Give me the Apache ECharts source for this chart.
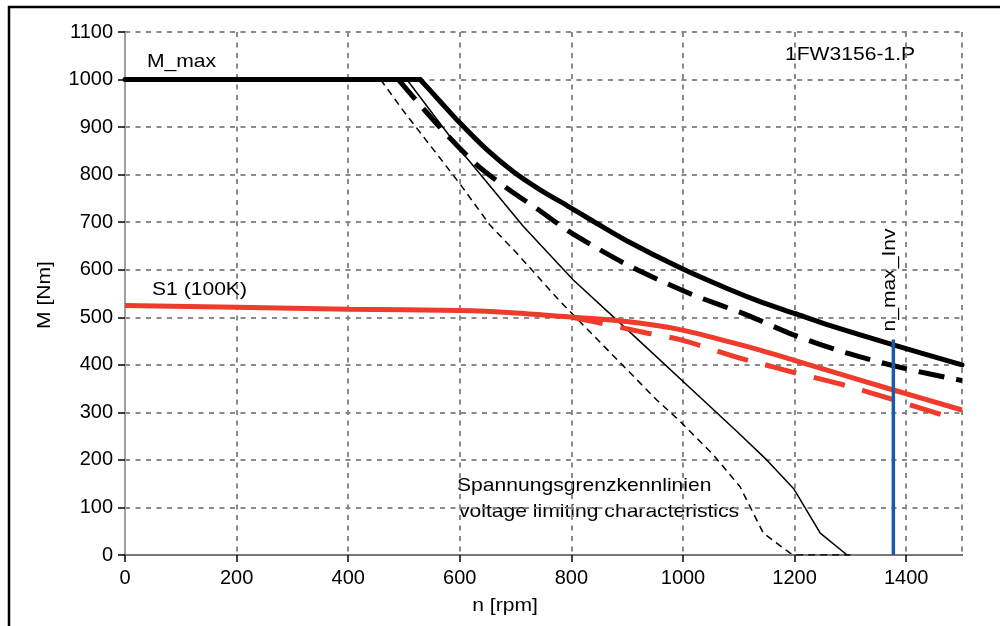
<!DOCTYPE html>
<html><head><meta charset="utf-8">
<script src="https://cdn.jsdelivr.net/npm/echarts@6/dist/echarts.min.js"></script>
<style>html,body{margin:0;padding:0;background:#fff}#c{width:1000px;height:626px}</style>
</head><body><div id="c"></div>
<script>
// ---- data ----
const xTickLabels = [0, 200, 400, 600, 800, 1000, 1200, 1400];
const yTickLabels = [0, 100, 200, 300, 400, 500, 600, 700, 800, 900, 1000, 1100];

// M_max: constant part, then field-weakening part
const mMaxFlatRpm = [0, 529];
const mMaxFlatNm  = [1000, 1000];
const mMaxRpm = [529, 564, 600, 648, 696, 744, 792, 839, 899, 995, 1078, 1138, 1200, 1257, 1377, 1500];
const mMaxNm  = [1000, 955, 909, 853, 806, 768, 735, 702, 661, 604, 561, 533, 508, 485, 442, 400];

const mMaxDashRpm = [490, 536, 579, 630, 684, 741, 795, 845, 899, 956, 1018, 1114, 1198, 1293, 1395, 1500];
const mMaxDashNm  = [1000, 937, 881, 821, 772, 726, 681, 646, 611, 579, 547, 505, 463, 425, 393, 367];

const voltSolidRpm = [505, 600, 714, 803, 900, 1036, 1100, 1150, 1198, 1246, 1294];
const voltSolidNm  = [1000, 853, 691, 579, 474, 326, 256, 200, 140, 46, 0];

const voltDashRpm = [458, 499, 600, 654, 702, 780, 953, 995, 1054, 1102, 1120, 1144, 1192, 1200, 1300];
const voltDashNm  = [1000, 934, 781, 694, 635, 533, 326, 281, 211, 144, 102, 46, 4, 0, 0];

const s1Rpm = [0, 200, 400, 600, 700, 780, 899, 995, 1090, 1138, 1198, 1258, 1377, 1500];
const s1Nm  = [525, 521, 517, 514, 509, 502, 491, 474, 446, 431, 410, 389, 347, 305];

const s1DashRpm = [800, 839, 935, 995, 1102, 1138, 1192, 1287, 1365, 1475];
const s1DashNm  = [500, 491, 467, 453, 414, 403, 386, 358, 331, 291];

const nMaxInvRpm = [1377, 1377];
const nMaxInvNm  = [0, 453];

const zip = (a, b) => a.map((v, i) => [v, b[i]]);

const FONT = '"Liberation Sans", Arial, sans-serif';
const RED = '#ee3b2b';
const chart = echarts.init(document.getElementById('c'), null, {renderer: 'canvas'});

const gridDash = {color: '#8a8a8a', width: 2, type: [5, 5.5]};
const txt = (text, x, y) => ({
  type: 'text', x: x, y: y, scaleX: 1.11,
  style: {text: text, font: '19px ' + FONT, fill: '#000', textVerticalAlign: 'middle'}
});
const ctxt = (text, x, y, rot) => ({
  type: 'text', x: x, y: y, scaleX: 1.11, rotation: rot || 0,
  style: {text: text, font: '19px ' + FONT, fill: '#000', textAlign: 'center', textVerticalAlign: 'middle'}
});

chart.setOption({
  animation: false,
  backgroundColor: '#fff',
  grid: {left: 125, right: 38, top: 32, bottom: 71},
  xAxis: [{
    type: 'value', min: 0, max: 1500, interval: 200,
    axisLine: {show: true, onZero: false, lineStyle: {color: '#000', width: 2}},
    axisTick: {show: true, length: 7, lineStyle: {color: '#000', width: 1.5}},
    axisLabel: {margin: 13, fontSize: 20, color: '#000', fontFamily: FONT, showMaxLabel: false,
      formatter: v => xTickLabels.includes(v) ? String(v) : ''},
    splitLine: {show: true, lineStyle: gridDash}
  }, {
    type: 'value', position: 'top', min: 0, max: 1500,
    axisLine: {show: true, lineStyle: {color: '#a0a0a0', width: 1.5}},
    axisTick: {show: false}, axisLabel: {show: false}, splitLine: {show: false}
  }],
  yAxis: [{
    type: 'value', min: 0, max: 1100, interval: 100,
    axisLine: {show: true, onZero: false, lineStyle: {color: '#000', width: 2}},
    axisTick: {show: true, length: 7, lineStyle: {color: '#000', width: 1.5}},
    axisLabel: {margin: 12, fontSize: 20, color: '#000', fontFamily: FONT,
      formatter: v => yTickLabels.includes(v) ? String(v) : ''},
    splitLine: {show: true, lineStyle: gridDash}
  }, {
    type: 'value', position: 'right', min: 0, max: 1100,
    axisLine: {show: true, lineStyle: {color: '#a0a0a0', width: 2}},
    axisTick: {show: false}, axisLabel: {show: false}, splitLine: {show: false}
  }],
  series: [
    {type: 'line', name: 'voltDash', data: zip(voltDashRpm, voltDashNm), showSymbol: false, z: 2,
      lineStyle: {color: '#000', width: 1.5, type: [7, 5]}},
    {type: 'line', name: 'voltSolid', data: zip(voltSolidRpm, voltSolidNm), showSymbol: false, z: 2,
      lineStyle: {color: '#000', width: 1.5}},
    {type: 'line', name: 'S1 dash', data: zip(s1DashRpm, s1DashNm), showSymbol: false, smooth: 0.3, z: 3,
      lineStyle: {color: RED, width: 5, type: [32, 18]}},
    {type: 'line', name: 'S1', data: zip(s1Rpm, s1Nm), showSymbol: false, smooth: 0.3, z: 3,
      lineStyle: {color: RED, width: 5}},
    {type: 'line', name: 'Mmax dash', data: zip(mMaxDashRpm, mMaxDashNm), showSymbol: false, smooth: 0.3, z: 4,
      lineStyle: {color: '#000', width: 5, type: [26, 12]}},
    {type: 'line', name: 'M_max flat', data: zip(mMaxFlatRpm, mMaxFlatNm), showSymbol: false, z: 4,
      lineStyle: {color: '#000', width: 5, cap: 'round'}},
    {type: 'line', name: 'M_max', data: zip(mMaxRpm, mMaxNm), showSymbol: false, smooth: 0.3, z: 4,
      lineStyle: {color: '#000', width: 5, cap: 'round'}},
    {type: 'line', name: 'n_max_Inv', data: zip(nMaxInvRpm, nMaxInvNm), showSymbol: false, z: 5,
      lineStyle: {color: '#1a5aa6', width: 3.5}}
  ],
  graphic: [
    {type: 'rect', shape: {x: 9, y: 7, width: 1010, height: 640}, style: {fill: 'none', stroke: '#000', lineWidth: 2.5}, z: 100},
    txt('M_max', 147, 62),
    txt('S1 (100K)', 152, 290),
    txt('1FW3156-1.P', 785, 55),
    txt('Spannungsgrenzkennlinien', 457, 486),
    txt('voltage limiting characteristics', 459, 512),
    ctxt('n_max_Inv', 890, 280, Math.PI / 2),
    ctxt('M [Nm]', 45, 295, Math.PI / 2),
    ctxt('n [rpm]', 505, 606)
  ]
});
</script>
</body></html>
